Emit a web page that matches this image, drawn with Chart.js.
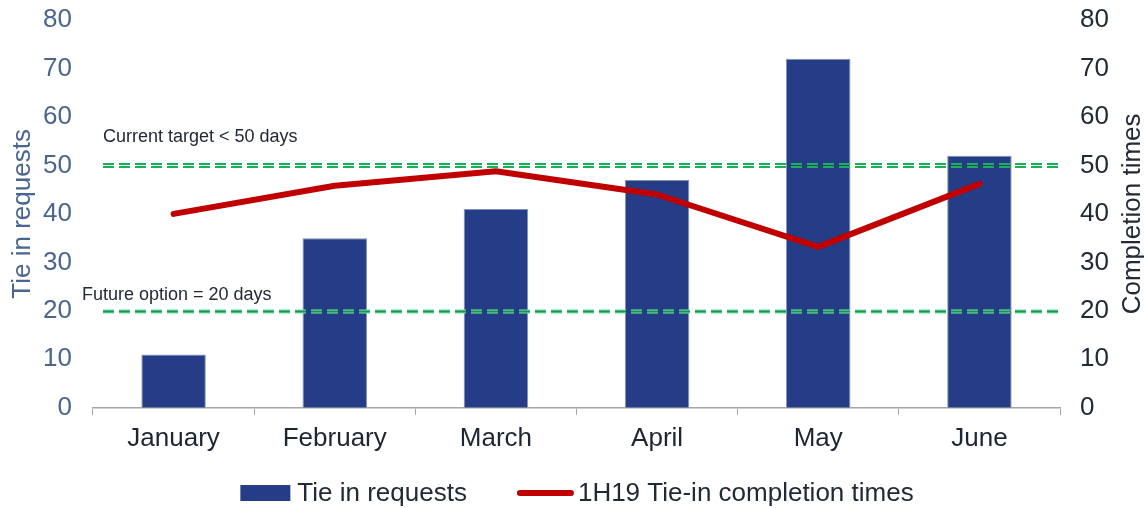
<!DOCTYPE html>
<html>
<head>
<meta charset="utf-8">
<script src="https://cdn.jsdelivr.net/npm/chart.js@4.4.1/dist/chart.umd.min.js"></script>
<style>
  html, body { margin: 0; padding: 0; background: #ffffff; }
  #wrap { width: 1144px; height: 508px; position: relative; }
</style>
</head>
<body>
<div id="wrap"><canvas id="c" width="1144" height="508"></canvas></div>
<script>
// ---- Data ----
const months = ['January', 'February', 'March', 'April', 'May', 'June'];
const tieInRequests = [11, 35, 41, 47, 72, 52];
const completionTimes = [40, 45.8, 48.8, 44, 33.2, 46.2];
const targetValues = [50, 20];
const targetLabels = ['Current target < 50 days', 'Future option = 20 days'];
const yTicks = [0, 10, 20, 30, 40, 50, 60, 70, 80];
const leftTitle = 'Tie in requests';
const rightTitle = 'Completion times';

const FONT = "'Liberation Sans', Arial, sans-serif";
const BAR_COLOR = '#253c86';
const LINE_COLOR = '#c00000';
const TEXT_DARK = '#222a35';

const targetPlugin = {
  id: 'targets',
  afterDatasetsDraw(chart) {
    const ctx = chart.ctx;
    const y = chart.scales.y;
    const area = chart.chartArea;
    const labelX = [103, 82];
    const labelDy = [-24, -12];
    ctx.save();
    targetValues.forEach((v, i) => {
      const py = Math.round(y.getPixelForValue(v)) + 0.5;
      const x0 = area.left + 10, x1 = area.right + 2;
      ctx.setLineDash([11, 5]);
      if (i === 0) {
        ctx.strokeStyle = '#19b056';
        ctx.lineWidth = 2;
        ctx.beginPath(); ctx.moveTo(x0, py - 1.5); ctx.lineTo(x1, py - 1.5); ctx.stroke();
        ctx.beginPath(); ctx.moveTo(x0, py + 1.5); ctx.lineTo(x1, py + 1.5); ctx.stroke();
      } else {
        ctx.strokeStyle = '#86dca6';
        ctx.lineWidth = 4;
        ctx.beginPath(); ctx.moveTo(x0, py); ctx.lineTo(x1, py); ctx.stroke();
        ctx.strokeStyle = '#07a04c';
        ctx.lineWidth = 2;
        ctx.beginPath(); ctx.moveTo(x0, py); ctx.lineTo(x1, py); ctx.stroke();
      }
      ctx.setLineDash([]);
      ctx.fillStyle = TEXT_DARK;
      ctx.font = '18px ' + FONT;
      ctx.textBaseline = 'alphabetic';
      ctx.textAlign = 'left';
      ctx.fillText(targetLabels[i], labelX[i], py + labelDy[i]);
    });
    ctx.restore();
  },
  afterDraw(chart) {
    const ctx = chart.ctx;
    const area = chart.chartArea;
    ctx.save();
    // right axis title, reading bottom-to-top
    ctx.translate(1133, (area.top + area.bottom) / 2);
    ctx.rotate(-Math.PI / 2);
    ctx.font = '26px ' + FONT;
    ctx.fillStyle = TEXT_DARK;
    ctx.textAlign = 'center';
    ctx.textBaseline = 'middle';
    ctx.fillText(rightTitle, 0, 0);
    ctx.restore();

    // legend
    const ds = chart.data.datasets;
    const barDs = ds[1], lineDs = ds[0];
    ctx.save();
    ctx.font = '26px ' + FONT;
    ctx.textBaseline = 'middle';
    ctx.textAlign = 'left';
    const w1 = ctx.measureText(barDs.label).width;
    const w2 = ctx.measureText(lineDs.label).width;
    const total = 50 + 7 + w1 + 50 + 57 + 4 + w2;
    let x = 577 - total / 2;
    const cy = 493;
    ctx.fillStyle = BAR_COLOR;
    ctx.fillRect(x, cy - 8, 50, 16);
    x += 57;
    ctx.fillStyle = TEXT_DARK;
    ctx.fillText(barDs.label, x, cy + 1);
    x += w1 + 50;
    ctx.strokeStyle = LINE_COLOR;
    ctx.lineWidth = 6;
    ctx.lineCap = 'round';
    ctx.beginPath(); ctx.moveTo(x + 3, cy); ctx.lineTo(x + 54, cy); ctx.stroke();
    x += 61;
    ctx.fillText(lineDs.label, x, cy + 1);
    ctx.restore();
  }
};

function fixVertical(width) {
  return function (axis) {
    axis.width = width;
    axis.paddingTop = 0;
    axis.paddingBottom = 0;
  };
}

new Chart(document.getElementById('c'), {
  data: {
    labels: months,
    datasets: [
      {
        type: 'line',
        label: '1H19 Tie-in completion times',
        data: completionTimes,
        yAxisID: 'y1',
        borderColor: LINE_COLOR,
        backgroundColor: LINE_COLOR,
        borderWidth: 6,
        borderCapStyle: 'round',
        borderJoinStyle: 'round',
        pointRadius: 0,
        tension: 0,
        order: 0
      },
      {
        type: 'bar',
        label: 'Tie in requests',
        data: tieInRequests,
        yAxisID: 'y',
        backgroundColor: BAR_COLOR,
        borderColor: '#8290bb',
        borderWidth: 1,
        barPercentage: 0.4,
        categoryPercentage: 1.0,
        order: 1
      }
    ]
  },
  options: {
    responsive: false,
    animation: false,
    layout: { autoPadding: false, padding: { top: 20, left: 0, right: 0, bottom: 46 } },
    plugins: {
      tooltip: { enabled: false },
      legend: { display: false }
    },
    scales: {
      x: {
        offset: true,
        grid: { display: true, drawOnChartArea: false, drawTicks: true, tickLength: 7, color: '#a6a6a6', offset: true },
        border: { display: true, color: '#a6a6a6', width: 1.5 },
        ticks: { font: { family: FONT, size: 26 }, color: '#1e2533', padding: 8 }
      },
      y: {
        position: 'left',
        min: 0, max: 80,
        afterBuildTicks(axis) { axis.ticks = yTicks.map(v => ({ value: v })); },
        afterFit: fixVertical(93),
        grid: { display: false, drawTicks: false },
        border: { display: false },
        ticks: { font: { family: FONT, size: 26 }, color: '#4a6590', padding: 21 },
        title: { display: true, text: leftTitle, font: { family: FONT, size: 26 }, color: '#4a6590', padding: { top: 7, bottom: 0 } }
      },
      y1: {
        position: 'right',
        min: 0, max: 80,
        afterBuildTicks(axis) { axis.ticks = yTicks.map(v => ({ value: v })); },
        afterFit: fixVertical(84),
        grid: { display: false, drawTicks: false },
        border: { display: false },
        ticks: { font: { family: FONT, size: 26 }, color: TEXT_DARK, padding: 20 },
        title: { display: false }
      }
    }
  },
  plugins: [targetPlugin]
});
</script>
</body>
</html>
